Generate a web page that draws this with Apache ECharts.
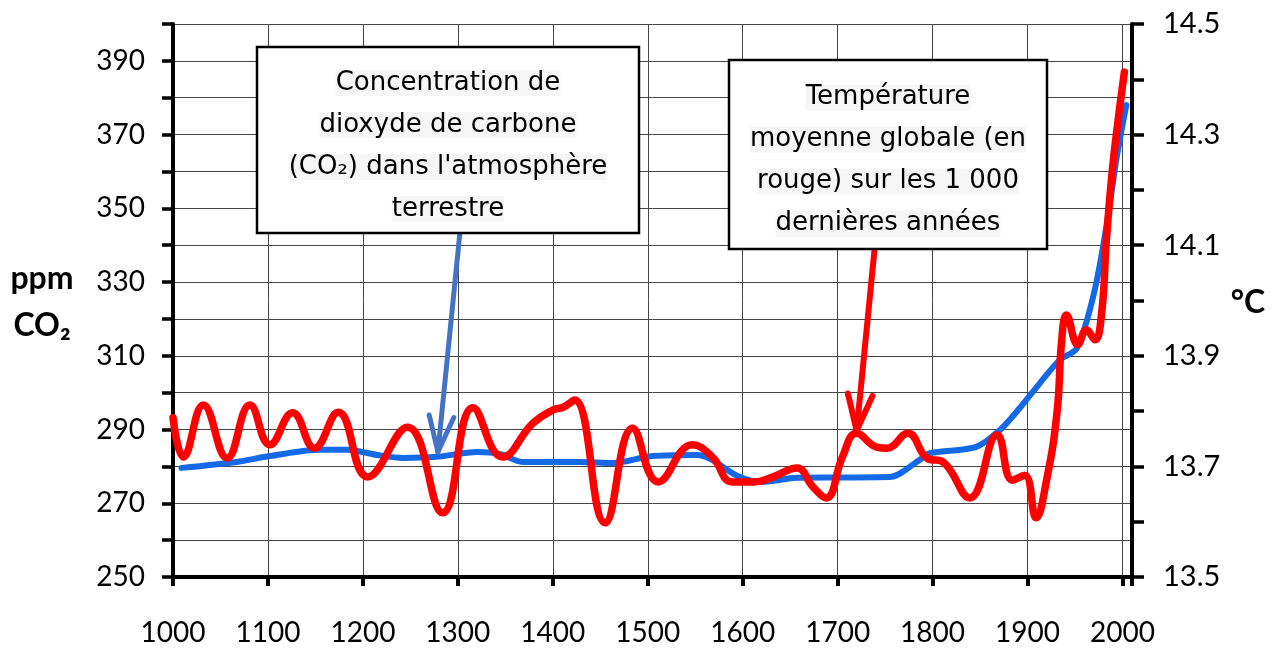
<!DOCTYPE html>
<html>
<head>
<meta charset="utf-8">
<script src="https://cdn.jsdelivr.net/npm/echarts@6/dist/echarts.min.js"></script>
<style>
html,body{margin:0;padding:0;background:#fff;}
#main{width:1275px;height:648px;}
</style>
</head>
<body>
<div id="main"></div>
<script>
// CO2 (ppm), courbe bleue
var co2Years = [1009,1067,1102,1155,1183,1215,1242,1278,1320,1344,1368,1428,1463,1505,1552,1597,1621,1657,1700,1755,1786,1797,1846,1871,1892,1913,1934,1952,1970,1983,1994,2004];
var co2Values = [279.6,281.2,282.8,284.5,284.5,283.1,282.3,282.6,283.9,283.4,281.2,281.2,280.9,282.8,283.1,277.1,275.8,276.9,277.0,277.1,281.7,283.6,285.3,289.9,295.9,302.6,308.9,312.1,327,345,364,378];
// température moyenne (°C), courbe rouge
var tempYears = [1000,1011,1032,1057,1081,1102,1126,1149,1174,1205,1247,1284,1316,1347,1379,1400,1411,1423,1455,1484,1511,1547,1568,1589,1611,1632,1657,1674,1688,1705,1720,1741,1752,1774,1794,1811,1839,1868,1884,1897,1909,1920,1931,1936,1941,1953,1962,1971,1978,1983,1989,1995,2002];
var tempValues = [13.788,13.717,13.811,13.715,13.811,13.739,13.797,13.733,13.798,13.681,13.771,13.616,13.806,13.717,13.778,13.802,13.807,13.820,13.598,13.769,13.672,13.739,13.717,13.672,13.672,13.681,13.697,13.663,13.643,13.717,13.760,13.735,13.733,13.760,13.715,13.708,13.643,13.757,13.675,13.684,13.607,13.675,13.797,13.929,13.974,13.920,13.947,13.929,13.977,14.109,14.231,14.321,14.413];

var boxCO2 = ['Concentration de', 'dioxyde de carbone', '(CO\u2082) dans l\'atmosphère', 'terrestre'];
var boxTemp = ['Température', 'moyenne globale (en', 'rouge) sur les 1 000', 'dernières années'];

function pairs(xs, ys){
    var out = [];
    for(var i = 0; i < xs.length; i++){
        out.push([xs[i], ys[i]]);
    }
    return out;
}

var axisFont = 'Lato';
var gridColor = '#444';

var chart = echarts.init(document.getElementById('main'));

var option = {
    animation: false,
    backgroundColor: '#fff',
    grid: {left: 173, right: 143, top: 24, bottom: 71},
    xAxis: {
        type: 'value',
        min: 1000,
        max: 2010,
        interval: 100,
        axisLine: {lineStyle: {color: '#000', width: 4}},
        axisTick: {show: true, length: 9, lineStyle: {color: '#000', width: 4}},
        axisLabel: {
            margin: 42,
            fontFamily: axisFont,
            fontSize: 28,
            color: '#000',
            formatter: function(v){ return v <= 2000 ? String(v) : ''; }
        },
        splitLine: {show: true, lineStyle: {color: gridColor, width: 1}}
    },
    yAxis: [{
        type: 'value',
        position: 'left',
        min: 250,
        max: 400,
        interval: 10,
        axisLine: {show: true, lineStyle: {color: '#000', width: 4}},
        axisTick: {show: true, length: 11, lineStyle: {color: '#000', width: 3.5}},
        axisLabel: {
            margin: 28,
            fontFamily: axisFont,
            fontSize: 28,
            color: '#000',
            formatter: function(v){ return (v % 20 === 10 && v < 400) ? String(v) : ''; }
        },
        splitLine: {show: true, lineStyle: {color: gridColor, width: 1}}
    }, {
        type: 'value',
        position: 'right',
        min: 13.5,
        max: 14.5,
        interval: 0.1,
        axisLine: {show: true, lineStyle: {color: '#000', width: 4}},
        axisTick: {show: true, length: 12, lineStyle: {color: '#000', width: 3.5}},
        axisLabel: {
            margin: 31,
            fontFamily: axisFont,
            fontSize: 29,
            color: '#000',
            formatter: function(v){
                var k = Math.round((v - 13.5) * 10);
                return k % 2 === 0 ? v.toFixed(1) : '';
            }
        },
        splitLine: {show: false}
    }],
    series: [{
        name: 'CO2',
        type: 'line',
        yAxisIndex: 0,
        data: pairs(co2Years, co2Values),
        symbol: 'none',
        smooth: 0.3,
        lineStyle: {color: '#1469e6', width: 6, cap: 'round', join: 'round'},
        z: 2
    }, {
        name: 'Température',
        type: 'line',
        yAxisIndex: 1,
        data: pairs(tempYears, tempValues),
        symbol: 'none',
        smooth: 0.45,
        lineStyle: {color: '#ff0000', width: 7.5, cap: 'round', join: 'round'},
        z: 3
    }]
};
chart.setOption(option);

// flèche (segment + pointe en V) entre deux points en coordonnées de données
function arrow(tail, tip, yIdx, color, width){
    var a = chart.convertToPixel({xAxisIndex: 0, yAxisIndex: yIdx}, tail);
    var b = chart.convertToPixel({xAxisIndex: 0, yAxisIndex: yIdx}, tip);
    var ang = Math.atan2(a[1] - b[1], a[0] - b[0]);
    var len = 38, spread = 19 * Math.PI / 180;
    var w1 = [b[0] + len * Math.cos(ang + spread), b[1] + len * Math.sin(ang + spread)];
    var w2 = [b[0] + len * Math.cos(ang - spread), b[1] + len * Math.sin(ang - spread)];
    var st = {stroke: color, lineWidth: width, lineCap: 'round', lineJoin: 'round', fill: null};
    return [
        {type: 'polyline', z: 50, shape: {points: [a, b]}, style: st},
        {type: 'polyline', z: 50, shape: {points: [w1, b, w2]}, style: st}
    ];
}

function textBox(x, y, w, h, lines){
    var txt = lines.map(function(l){ return '{h|' + l + '}'; }).join('\n');
    return [
        {type: 'rect', z: 60, shape: {x: x, y: y, width: w, height: h},
            style: {fill: '#fff', stroke: '#000', lineWidth: 2.5}},
        {type: 'text', z: 61, x: x + w / 2, y: y + h / 2 + 6,
            style: {
                text: txt,
                align: 'center',
                verticalAlign: 'middle',
                fill: '#000',
                fontFamily: 'DejaVu Sans',
                fontSize: 26,
                lineHeight: 42,
                rich: {h: {backgroundColor: '#f6f6f6', fontFamily: 'DejaVu Sans', fontSize: 26, lineHeight: 42, fill: '#000'}}
            }}
    ];
}

var graphics = [];
graphics = graphics.concat(arrow([1302, 343], [1279, 283.9], 0, '#4472c4', 5));
graphics = graphics.concat(arrow([1739, 14.095], [1720, 13.765], 1, '#ff0000', 6));
graphics = graphics.concat(textBox(257, 47, 382, 186, boxCO2));
graphics = graphics.concat(textBox(729, 60, 318, 189, boxTemp));
graphics.push({type: 'text', z: 70, x: 42, y: 279,
    style: {text: 'ppm', align: 'center', verticalAlign: 'middle', fontFamily: axisFont, fontWeight: 'bold', fontSize: 32, fill: '#000'}});
graphics.push({type: 'text', z: 70, x: 42, y: 326,
    style: {text: 'CO\u2082', align: 'center', verticalAlign: 'middle', fontFamily: axisFont, fontWeight: 'bold', fontSize: 32, fill: '#000'}});
graphics.push({type: 'text', z: 70, x: 1248, y: 303,
    style: {text: '°C', align: 'center', verticalAlign: 'middle', fontFamily: axisFont, fontWeight: 'bold', fontSize: 32, fill: '#000'}});

chart.setOption({graphic: {elements: graphics}});
</script>
</body>
</html>
